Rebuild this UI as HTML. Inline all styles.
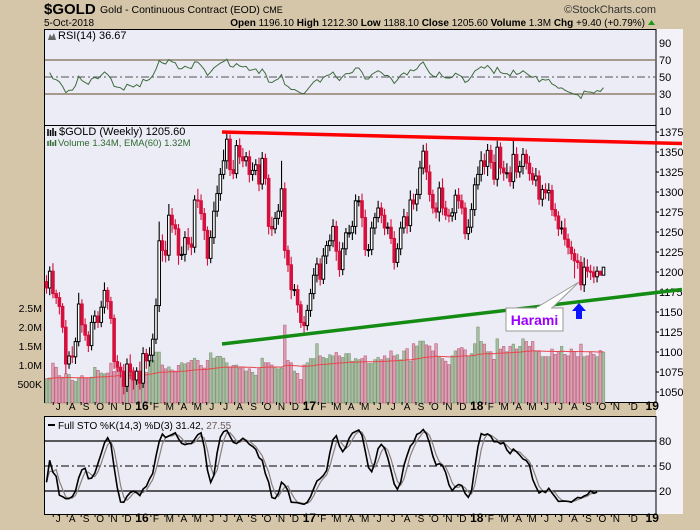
<!DOCTYPE html>
<html><head><meta charset="utf-8"><style>
html,body{margin:0;padding:0;background:#d5c6aa;}
svg{display:block;font-family:"Liberation Sans",sans-serif;}
</style></head><body>
<svg id="c" width="700" height="530" viewBox="0 0 700 530">
<rect x="0" y="0" width="700" height="530" fill="#d5c6aa"/>
<g>
<text x="44" y="14" font-size="15" font-weight="bold">$GOLD</text>
<text x="100" y="13" font-size="10.5">Gold - Continuous Contract (EOD) <tspan font-size="9">CME</tspan></text>
<text x="656" y="13" font-size="11" text-anchor="end" fill="#333">©StockCharts.com</text>
<text x="44" y="26" font-size="10">5-Oct-2018</text>
<text x="645" y="26" font-size="10" text-anchor="end"><tspan font-weight="bold">Open</tspan> 1196.10 <tspan font-weight="bold">High</tspan> 1212.30 <tspan font-weight="bold">Low</tspan> 1188.10 <tspan font-weight="bold">Close</tspan> 1205.60 <tspan font-weight="bold">Volume</tspan> 1.3M <tspan font-weight="bold">Chg</tspan> +9.40 (+0.79%)</text>
<path d="M648 25 L655 25 L651.5 20 Z" fill="#1a9a1a"/>
</g>
<rect x="656" y="29" width="27" height="485" fill="#f2f2f8"/>
<rect x="44.5" y="29.5" width="611.5" height="96" fill="#ececf6" stroke="#000"/>
<rect x="44.5" y="125.5" width="611.5" height="277" fill="#ececf6" stroke="#000"/>
<rect x="44.5" y="416.5" width="611.5" height="98" fill="#ececf6" stroke="#000"/>
<g id="rsiG"></g>
<g id="volG"></g>
<g id="priceG"></g>
<g id="stoG"></g>
<g id="axG"></g>
<line x1="222" y1="132" x2="682" y2="143.5" stroke="#ff0000" stroke-width="3.5"/>
<line x1="222" y1="344" x2="682" y2="289.5" stroke="#148c14" stroke-width="3.5"/>
<g>
<path d="M506 308 L563 308 L563 331 L506 331 Z" fill="#fff" stroke="#999"/>
<path d="M536 308 L579 282 L552 308 Z" fill="#fff" stroke="#999"/>
<line x1="537" y1="308" x2="551" y2="308" stroke="#fff" stroke-width="2"/>
<text x="534.5" y="325" font-size="14" font-weight="bold" fill="#9b00ff" text-anchor="middle">Harami</text>
<path d="M579 303 L586 311 L582 311 L582 319 L576 319 L576 311 L572 311 Z" fill="#0a14ff"/>
</g>
<g>
<text x="58" y="39" font-size="11">RSI(14) 36.67</text>
<path d="M48 40 L50 34 L52 37 L54 33 L56 40 Z" fill="#666"/>
<text x="59" y="135" font-size="11">$GOLD (Weekly) 1205.60</text>
<path d="M48 136 v-7 M50.5 136 v-6 M53 136 v-8 M55.5 136 v-5" stroke="#000" stroke-width="1.5"/>
<text x="58" y="146" font-size="9.5" fill="#2e6b2e">Volume 1.34M, EMA(60) 1.32M</text>
<path d="M48 146 v-5 M50.5 146 v-6 M53 146 v-4 M55.5 146 v-6" stroke="#2e6b2e" stroke-width="1.5"/>
<text x="58" y="429" font-size="10">Full STO %K(14,3) %D(3) 31.42, <tspan fill="#6b5a5a">27.55</tspan></text>
<line x1="48" y1="425" x2="55" y2="425" stroke="#000" stroke-width="2"/>
</g>
</svg>
<script>
const closes = [1180,1201,1173,1168,1157,1131,1085,1095,1094,1113,1160,1134,1121,1108,1137,1145,1137,1156,1177,1163,1142,1088,1081,1076,1057,1085,1075,1065,1076,
1061,1098,1089,1096,1116,1158,1239,1227,1221,1271,1259,1254,1221,1222,1243,1235,1231,1290,1289,1273,1252,1217,1243,1276,1298,1322,1339,1366,1328,1323,1358,1344,1339,1344,1322,1327,1334,1310,1342,1317,1257,1254,1267,1276,1304,1227,1209,1178,1178,1159,1137,1133,1152,
1173,1196,1210,1191,1220,1233,1239,1257,1226,1203,1229,1249,1249,1257,1289,1289,1268,1228,1228,1255,1268,1280,1271,1255,1256,1242,1212,1229,1255,1269,1258,1290,1285,1297,1330,1351,1325,1297,1280,1275,1305,1280,1271,1270,1274,1296,1289,1280,1248,1256,1278,1309,
1322,1339,1332,1352,1337,1316,1356,1330,1324,1324,1313,1347,1325,1332,1347,1336,1323,1315,1320,1291,1303,1299,1302,1278,1270,1254,1255,1241,1231,1223,1214,1212,1184,1206,1201,1200,1194,1201,1196,1206];
const upWick = [8,6,10,5,7,4,9,6,12,5,14,6,8,5,9,7,6,8,10,4,6,5,8,6,9,7,12,6,5,
12,8,6,10,7,9,24,8,12,14,9,7,6,10,8,12,9,6,14,8,7,5,9,12,10,8,14,9,6,12,7,9,11,6,8,10,7,9,8,6,5,12,8,9,35,8,6,10,7,6,5,8,7,
6,9,8,7,10,6,8,9,7,12,8,6,10,7,8,6,9,10,7,8,6,9,7,8,6,10,9,7,8,10,6,12,8,7,9,8,10,9,6,7,8,12,9,8,6,7,9,8,7,10,
8,9,10,12,9,8,7,10,8,6,9,12,8,18,9,7,8,6,9,8,10,7,6,8,9,7,8,6,9,12,7,8,6,9,8,12,10,8,7,6];
const dnWick = [7,9,6,8,10,7,12,6,8,9,6,10,7,8,6,9,7,6,8,10,7,9,6,8,10,7,9,12,6,
8,6,10,7,9,6,8,14,9,7,10,8,12,6,9,8,10,7,9,8,12,9,6,8,7,9,6,10,8,7,6,9,8,7,10,8,6,9,7,8,10,9,6,8,7,10,9,12,8,10,7,9,6,
8,7,9,8,6,10,7,8,12,9,7,8,6,9,10,7,12,8,9,7,8,6,10,9,8,7,9,6,8,7,10,8,7,9,6,8,10,9,7,8,12,9,6,8,7,9,10,8,7,8,
7,8,6,9,10,12,8,7,9,8,10,7,6,9,8,7,10,8,9,6,8,7,9,8,10,8,6,9,7,8,9,8,22,8,7,9,8,10,8,7];
const volumes = [0.64,0.66,1.05,0.94,0.72,0.68,0.77,0.75,0.6,0.57,0.66,0.72,0.64,0.66,0.68,0.94,0.86,0.79,0.77,0.79,1.05,0.83,0.94,0.88,0.68,0.83,0.99,0.86,0.6,
0.81,0.84,0.81,1.23,1.12,1.34,1.34,1.0,0.9,0.95,0.87,0.84,0.99,1.06,1.03,1.06,1.12,1.18,1.12,0.99,0.92,1.12,1.32,1.18,1.23,1.23,1.18,1.06,0.95,0.99,1.0,0.92,0.95,0.84,0.9,0.81,0.73,0.9,1.18,1.06,1.06,1.0,0.95,0.9,0.92,2.05,1.12,1.06,0.84,0.78,0.62,1.0,1.06,
1.17,1.17,1.56,1.24,1.2,1.17,1.27,1.24,1.33,1.24,1.2,1.3,1.3,1.1,1.17,1.14,1.17,1.24,1.04,1.04,1.14,1.2,1.14,1.24,1.17,1.37,1.24,1.27,1.14,1.37,1.43,1.1,1.56,1.5,1.63,1.63,1.53,1.5,1.37,1.56,1.2,1.17,1.1,1.01,1.24,1.37,1.43,1.46,1.4,1.24,1.3,1.56,
2.0,1.62,1.55,1.35,1.35,1.15,1.69,1.42,1.49,1.35,1.49,1.55,1.42,1.49,1.69,1.62,1.49,1.62,1.35,1.35,1.22,1.22,1.22,1.42,1.28,1.35,1.49,1.28,1.24,1.42,1.35,1.22,1.55,1.22,1.24,1.35,1.28,1.22,1.38,1.34];
const priceTicks = [1375,1350,1325,1300,1275,1250,1225,1200,1175,1150,1125,1100,1075,1050];
const volTicks = [2.5,2.0,1.5,1.0,0.5];
const volTickLabels = ["2.5M","2.0M","1.5M","1.0M","500K"];
const rsiTicks = [90,70,50,30,10];
const stoTicks = [80,50,20];
const monthLabels = ["J","A","S","O","N","D","16","F","M","A","M","J","J","A","S","O","N","D","17","F","M","A","M","J","J","A","S","O","N","D","18","F","M","A","M","J","J","A","S","O","N","D","19"];

const NS = "http://www.w3.org/2000/svg";
const N = closes.length;
const X0 = 46.5, X1 = 603.5;
const step = (X1 - X0) / (N - 1);
function xAt(i){ return X0 + i * step; }
function yPrice(p){ return 132 + (1375 - p) * 0.8; }
function yVol(v){ return 403 - v * 38; }
function yRsi(r){ return 60 + (70 - r) * 0.85; }
function ySto(s){ return 441 + (80 - s) * (50/60); }
function mk(tag, attrs, parent){ const e = document.createElementNS(NS, tag); for (const k in attrs) e.setAttribute(k, attrs[k]); parent.appendChild(e); return e; }

const priceG = document.getElementById('priceG'), volG = document.getElementById('volG'),
      rsiG = document.getElementById('rsiG'), stoG = document.getElementById('stoG'), axG = document.getElementById('axG');

[70,30].forEach(r=>{ const l = mk('line',{x1:45,x2:656,y1:yRsi(r),y2:yRsi(r),stroke:'#7a6a50','stroke-width':1.3},rsiG);
  });
{ const l = mk('line',{x1:45,x2:656,y1:yRsi(50),y2:yRsi(50),stroke:'#555','stroke-dasharray':'8 3 2 3'},rsiG);
  }
[80,20].forEach(s=>{ const l = mk('line',{x1:45,x2:656,y1:ySto(s),y2:ySto(s),stroke:'#000','stroke-width':1.2},stoG);
  });
{ const l = mk('line',{x1:45,x2:656,y1:ySto(50),y2:ySto(50),stroke:'#000','stroke-dasharray':'8 3 2 3'},stoG);
  }

let ema = volumes[0]; const k = 2/61; let emaPts = [];
for (let i=0;i<N;i++){
  const up = i===0 ? true : closes[i] >= closes[i-1];
  const y = yVol(volumes[i]);
  const b = mk('rect',{x:xAt(i)-1.3,y:y,width:2.6,height:403-y,fill:up?'#a9bda2':'#d9a2b2',stroke:up?'#7f9977':'#c0607e','stroke-width':0.6},volG);
  
  
  ema = i===0 ? volumes[0] : ema + k*(volumes[i]-ema);
  emaPts.push(xAt(i).toFixed(1)+','+yVol(ema).toFixed(1));
}
{ const l = mk('polyline',{points:emaPts.join(' '),fill:'none',stroke:'#e8454a','stroke-width':1},volG);
  }

for (let i=0;i<N;i++){
  const o = i===0 ? closes[0]+8 : closes[i-1], c = closes[i];
  const hi = Math.max(o,c) + upWick[i], lo = Math.min(o,c) - dnWick[i];
  const up = c >= o, col = up ? '#000' : '#d6103c';
  const x = xAt(i);
  const w = mk('line',{x1:x,x2:x,y1:yPrice(hi),y2:yPrice(lo),stroke:col,'stroke-width':1.1},priceG);
  
  
  const yt = yPrice(Math.max(o,c)), yb = yPrice(Math.min(o,c));
  const r = mk('rect',{x:x-1.3,y:yt,width:2.6,height:Math.max(1,yb-yt),fill:up?'#fff':'#d6103c',stroke:col,'stroke-width':1},priceG);
  
  
}

let ag = 7, al = 7, rsiPts = [];
for (let i=1;i<N;i++){
  const d = closes[i]-closes[i-1];
  ag = (ag*13 + Math.max(d,0))/14; al = (al*13 + Math.max(-d,0))/14;
  const r = 100 - 100/(1+ag/al);
  rsiPts.push(xAt(i).toFixed(1)+','+yRsi(r).toFixed(1));
}
{ const l = mk('polyline',{points:rsiPts.join(' '),fill:'none',stroke:'#3d6b3d','stroke-width':1},rsiG);
  }

const rawK = [];
for (let i=0;i<N;i++){
  let hh=-1e9, ll=1e9;
  for (let j=Math.max(0,i-13);j<=i;j++){
    const o = j===0 ? closes[0]+8 : closes[j-1];
    hh = Math.max(hh, Math.max(o,closes[j])+upWick[j]);
    ll = Math.min(ll, Math.min(o,closes[j])-dnWick[j]);
  }
  rawK.push(hh===ll?50:(closes[i]-ll)/(hh-ll)*100);
}
function sma3(a){ return a.map((v,i)=>{ const s=a.slice(Math.max(0,i-2),i+1); return s.reduce((p,q)=>p+q,0)/s.length; }); }
const fullK = sma3(rawK), fullD = sma3(fullK);
{ const l = mk('polyline',{points:fullD.map((v,i)=>xAt(i).toFixed(1)+','+ySto(v).toFixed(1)).join(' '),fill:'none',stroke:'#8a7f7f','stroke-width':1.2},stoG);
  }
{ const l = mk('polyline',{points:fullK.map((v,i)=>xAt(i).toFixed(1)+','+ySto(v).toFixed(1)).join(' '),fill:'none',stroke:'#000','stroke-width':1.6},stoG);
  }

function txt(x,y,s,attrs,name){ const t = mk('text',Object.assign({x:x,y:y,'font-size':11},attrs),axG); t.textContent = s;
  return t; }
priceTicks.forEach(p=>{ txt(659,yPrice(p)+4,String(p),{}, 'price-tick-label');
  const m = mk('line',{x1:656,x2:659,y1:yPrice(p),y2:yPrice(p),stroke:'#000'},axG);
    });
volTicks.forEach((v,i)=>{ txt(42,yVol(v)+4,volTickLabels[i],{'text-anchor':'end','font-size':10.5},'volume-tick-label'); });
rsiTicks.forEach(r=>{ txt(659,yRsi(r)+4,String(r),{},'rsi-tick-label'); });
stoTicks.forEach(s=>{ txt(659,ySto(s)+4,String(s),{},'sto-tick-label'); });
const firstMonthIdx = 19/7;
const monthWeeks = 52/12;
monthLabels.forEach((m,i)=>{
  const x = xAt(firstMonthIdx + i*monthWeeks) + 3 + (i>40? (i-40)*4 : 0);
  const big = m.length===2;
  [410,522].forEach(y=>{
    txt(x,y,m,{'text-anchor':'middle','font-size':big?12:10,'font-weight':big?'bold':'normal'},'x-axis-month-label');
  });
  [402,514].forEach(y=>{
    const t = mk('line',{x1:x-5,x2:x-5,y1:y,y2:y+3,stroke:'#000'},axG);
     
  });
});
</script>
</body></html>
